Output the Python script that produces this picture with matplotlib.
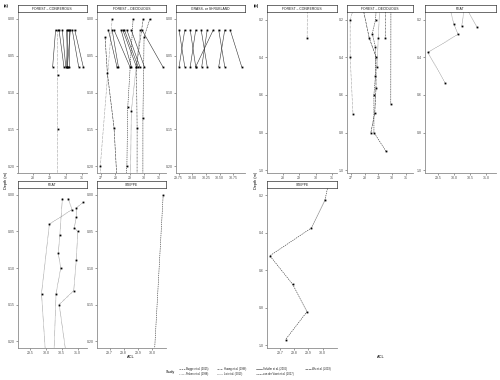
import matplotlib
matplotlib.use('Agg')
import matplotlib.pyplot as plt
from matplotlib.lines import Line2D

plt.rcParams['font.family'] = ['Liberation Sans', 'DejaVu Sans']

# ---------------- data ----------------
studies = ["Bugge et al. (2015)", "Fisken et al. (1998)", "Huang et al. (1996)",
           "Lai et al. (2019)", "Schäfer et al. (2016)", "van der Voort et al. (2017)",
           "Wu et al. (2019)"]

conif_study = ["Schäfer et al. (2016)"] * 9 + ["Fisken et al. (1998)"]
conif_acl = [[29.38, 29.20], [29.59, 29.89], [29.79, 30.00], [30.05, 30.12], [30.12, 30.05],
             [30.20, 30.20], [30.28, 30.10], [30.40, 30.79], [30.55, 31.07],
             [29.50, 29.50, 29.50, 29.49]]
conif_depth = [[0.015, 0.065], [0.015, 0.065], [0.015, 0.065], [0.015, 0.065], [0.015, 0.065],
               [0.015, 0.065], [0.015, 0.065], [0.015, 0.065], [0.015, 0.065],
               [0.015, 0.076, 0.150, 0.298]]

decid_study = ["Schäfer et al. (2016)"] * 9 + [
    "Fisken et al. (1998)", "Wu et al. (2019)", "Bugge et al. (2015)",
    "Huang et al. (1996)", "van der Voort et al. (2017)", "Lai et al. (2019)"]
decid_acl = [[27.51, 28.10], [27.77, 28.20], [27.90, 29.00], [28.39, 29.10], [28.51, 29.45],
             [28.62, 29.57], [28.79, 29.69], [29.09, 30.00], [29.84, 31.28],
             [27.77, 26.95, 26.95, 27.15],
             [27.28, 27.44, 27.90, 28.33, 28.82, 28.82, 28.73, 28.45],
             [29.22, 28.85, 28.79, 28.55, 28.78, 28.78, 28.67, 28.67, 29.55],
             [29.92, 29.45, 29.50, 29.49],
             [30.38, 29.98, 29.90, 29.89],
             [29.72, 29.10, 28.98, 28.90]]
decid_depth = [[0.015, 0.065], [0.015, 0.065], [0.015, 0.065], [0.015, 0.065], [0.015, 0.065],
               [0.015, 0.065], [0.015, 0.065], [0.015, 0.065], [0.015, 0.065],
               [0.0, 0.20, 0.40, 0.70],
               [0.025, 0.074, 0.148, 0.298, 0.398, 0.565, 0.696, 0.800],
               [0.0, 0.12, 0.20, 0.275, 0.346, 0.50, 0.60, 0.80, 0.90],
               [0.0, 0.065, 0.148, 0.298],
               [0.0, 0.025, 0.135, 0.649],
               [0.015, 0.125, 0.30, 0.45]]

grass_study = ["Schäfer et al. (2016)"] * 10
grass_acl = [[29.756, 29.86], [29.86, 29.756], [29.96, 30.06], [30.06, 29.96], [30.16, 30.27],
             [30.27, 30.17], [30.38, 30.06], [30.48, 30.59], [30.59, 30.48], [30.69, 30.90]]
grass_depth = [[0.015, 0.065]] * 10

peat_study = ["Lai et al. (2019)", "Lai et al. (2019)", "Lai et al. (2019)"]
peat_acl = [[30.52, 30.44, 30.39, 30.47, 30.32, 30.24],
            [30.70, 30.83, 30.11, 29.86, 30.00, 30.12, 29.19, 29.72],
            [31.18, 30.96, 30.96, 30.90, 31.01, 30.96, 30.88, 30.42, 30.71]]
peat_depth = [[0.005, 0.055, 0.080, 0.100, 0.135, 0.235],
              [0.005, 0.020, 0.040, 0.135, 0.226, 0.279, 0.375, 0.535],
              [0.010, 0.018, 0.030, 0.045, 0.050, 0.089, 0.131, 0.150, 0.240]]

steppe_study = ["Bugge et al. (2015)"]
steppe_acl = [[30.08, 30.015, 29.92, 29.63, 29.79, 29.89, 29.74]]
steppe_depth = [[0.0, 0.226, 0.374, 0.522, 0.675, 0.821, 0.970]]

# ---------------- styling ----------------
dashes = {
    "Bugge et al. (2015)": (0, (2.5, 1.5)),
    "Fisken et al. (1998)": (0, (0.8, 1.6)),
    "Huang et al. (1996)": (0, (3, 1, 0.8, 1)),
    "Lai et al. (2019)": (0, (0.8, 1.2)),
    "Schäfer et al. (2016)": "solid",
    "van der Voort et al. (2017)": (0, (2, 1)),
    "Wu et al. (2019)": (0, (5, 1.2)),
}
LC = '#303030'
TICKC = '#4d4d4d'
AXC = '#8c8c8c'

W, H = 500, 380
fig = plt.figure(figsize=(5, 3.8), dpi=100)


def ax_px(x0, x1, y0, y1):
    return fig.add_axes([x0 / W, 1 - y1 / H, (x1 - x0) / W, (y1 - y0) / H])


facets = {
    "conif": ("FOREST – CONIFEROUS", conif_study, conif_acl, conif_depth, (27.05, 31.3), [28, 29, 30, 31], "{:.0f}"),
    "decid": ("FOREST – DECIDUOUS", decid_study, decid_acl, decid_depth, (26.72, 31.5), [27, 28, 29, 30, 31], "{:.0f}"),
    "grass": ("GRASS- or SHRUBLAND", grass_study, grass_acl, grass_depth, (29.70, 30.96), [29.75, 30.0, 30.25, 30.5, 30.75], "{:.2f}"),
    "peat": ("PEAT", peat_study, peat_acl, peat_depth, (29.10, 31.3), [29.5, 30.0, 30.5, 31.0], "{:.1f}"),
    "steppe": ("STEPPE", steppe_study, steppe_acl, steppe_depth, (29.61, 30.10), [29.7, 29.8, 29.9, 30.0], "{:.1f}"),
}

row1 = (12, 173)
row2 = (188, 348)
layout_a = [("conif", 17.5, 87, row1), ("decid", 97, 166, row1), ("grass", 176, 245, row1),
            ("peat", 17.5, 87, row2), ("steppe", 97, 166, row2)]
layout_b = [("conif", 267, 337, row1), ("decid", 347, 413, row1), ("peat", 425, 496, row1),
            ("steppe", 267, 337, row2)]

ylim_a = (0.2095, -0.0095)
yt_a = [0.0, 0.05, 0.10, 0.15, 0.20]
ylim_b = (1.015, 0.16)
yt_b = [0.2, 0.4, 0.6, 0.8, 1.0]


def draw_panel(key, x0, x1, rows, ylim, yticks, yfmt):
    title, st, acl, dep, xlim, xt, xfmt = facets[key]
    y0, y1 = rows
    ax = ax_px(x0, x1, y0, y1)
    for s, xs, ds in zip(st, acl, dep):
        ax.plot(xs, ds, color=LC, lw=0.4, linestyle=dashes[s], zorder=2)
        ax.plot(xs, ds, linestyle='none', marker='s', ms=1.3, mec='none', mfc='black', zorder=3)
    ax.set_xlim(*xlim)
    ax.set_ylim(*ylim)
    ax.set_xticks(xt)
    ax.set_xticklabels([xfmt.format(v) for v in xt])
    ax.set_yticks(yticks)
    ax.set_yticklabels([yfmt.format(v) for v in yticks])
    for sp in ['top', 'right']:
        ax.spines[sp].set_visible(False)
    for sp in ['left', 'bottom']:
        ax.spines[sp].set_color(AXC)
        ax.spines[sp].set_linewidth(0.6)
    ax.tick_params(length=1.2, width=0.4, color=TICKC, labelsize=2.5, labelcolor=TICKC, pad=0.8)
    # strip
    sax = ax_px(x0, x1, y0 - 7, y0)
    sax.set_xticks([]); sax.set_yticks([])
    for sp in sax.spines.values():
        sp.set_color('#333333'); sp.set_linewidth(0.5)
    sax.text(0.5, 0.5, title, ha='center', va='center', fontsize=2.4, color='#1a1a1a',
             transform=sax.transAxes)


for key, x0, x1, rows in layout_a:
    draw_panel(key, x0, x1, rows, ylim_a, yt_a, "{:.2f}")
for key, x0, x1, rows in layout_b:
    draw_panel(key, x0, x1, rows, ylim_b, yt_b, "{:.1f}")

# panel tags and axis titles
fig.text(4 / W, 1 - 6 / H, "(a)", fontsize=2.8, fontweight='bold', va='center', ha='left')
fig.text(254 / W, 1 - 6 / H, "(b)", fontsize=2.8, fontweight='bold', va='center', ha='left')
fig.text(6 / W, 1 - 180 / H, "Depth (m)", rotation=90, fontsize=2.8, va='center', ha='center')
fig.text(256 / W, 1 - 180 / H, "Depth (m)", rotation=90, fontsize=2.8, va='center', ha='center')
fig.text(131 / W, 1 - 357 / H, "ACL", fontsize=2.8, va='center', ha='center')
fig.text(381 / W, 1 - 357 / H, "ACL", fontsize=2.8, va='center', ha='center')

# legend (manual, two rows)
fig.text(166 / W, 1 - 372 / H, "Study", fontsize=2.6, va='center', ha='left')
leg_cols = [179, 216.5, 256, 305]
leg_rows = [369, 374]
order = [["Bugge et al. (2015)", "Fisken et al. (1998)"],
         ["Huang et al. (1996)", "Lai et al. (2019)"],
         ["Schäfer et al. (2016)", "van der Voort et al. (2017)"],
         ["Wu et al. (2019)"]]
for cx, col in zip(leg_cols, order):
    for ry, name in zip(leg_rows, col):
        yy = 1 - ry / H
        fig.add_artist(Line2D([cx / W, (cx + 5.5) / W], [yy, yy], transform=fig.transFigure,
                              color=LC, lw=0.4, linestyle=dashes[name]))
        fig.text((cx + 7) / W, yy, name, fontsize=1.9, va='center', ha='left', color='#1a1a1a')

fig.savefig("out.png", dpi=100)
